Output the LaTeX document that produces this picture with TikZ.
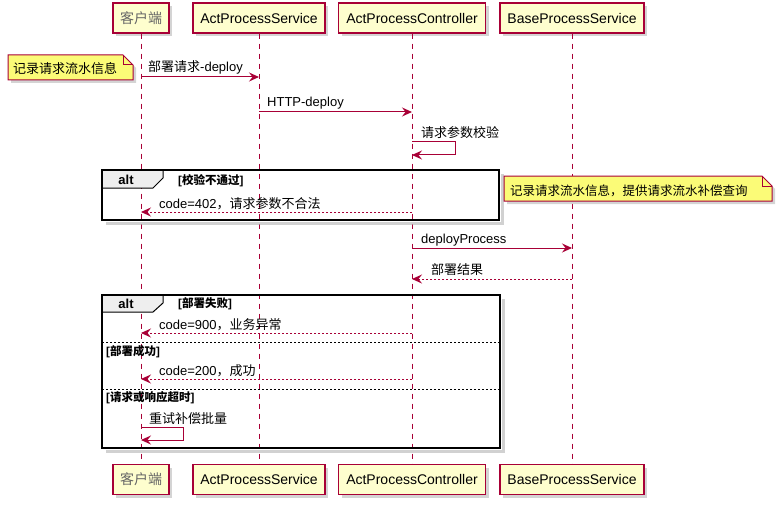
\documentclass[tikz,border=0pt]{standalone}
\usepackage{fontspec}
\setmainfont{Liberation Sans}
\newfontfamily\zhf{Noto Sans CJK SC}
\newcommand\zh[1]{{\zhf #1}}
\usetikzlibrary{arrows.meta,calc}
\definecolor{pbord}{HTML}{A80036}
\definecolor{pfill}{HTML}{FEFECE}
\definecolor{nfill}{HTML}{FBFB77}
\definecolor{tabfill}{HTML}{EEEEEE}
\definecolor{pgray}{HTML}{666666}
\tikzset{
  shad/.style={preaction={fill=black!28, opacity=0.6, draw=none, transform canvas={xshift=3pt,yshift=-3pt}}},
  part/.style={draw=pbord, fill=pfill, line width=1.3pt, minimum height=30pt, inner sep=0pt, shad,
    font=\fontsize{14}{16}\selectfont},
  life/.style={draw=pbord, line width=1pt, dash pattern=on 5pt off 5pt},
  msg/.style={draw=pbord, line width=1pt, -{Stealth[length=10pt,width=9pt,inset=3.5pt]}},
  ret/.style={msg, dash pattern=on 2pt off 2pt},
  lbl/.style={anchor=base west, inner sep=0pt, font=\fontsize{13}{15}\selectfont},
  guard/.style={anchor=base west, inner sep=0pt, font=\fontsize{11.5}{13}\selectfont\bfseries},
  frame/.style={draw=black, line width=1.5pt},
  fshad/.style={draw=black!30, line width=2.5pt, opacity=0.6},
  sep/.style={draw=black, line width=0.8pt, dash pattern=on 2pt off 2pt},
  tab/.style={draw=black, line width=1pt, fill=tabfill},
  notebox/.style={draw=pbord, line width=1pt, fill=nfill},
  noteshad/.style={fill=black!28, opacity=0.6, draw=none}
}
\begin{document}
\begin{tikzpicture}[x=1pt,y=-1pt]
\useasboundingbox (0,0) rectangle (783,505);

% participants (top)
\node[part, minimum width=56pt]  (a1) at (141,18) {\color{pgray}\zh{客户端}};
\node[part, minimum width=132pt] (a2) at (259,18) {ActProcessService};
\node[part, minimum width=147pt] (a3) at (412,18) {ActProcessController};
\node[part, minimum width=144pt] (a4) at (572,18) {BaseProcessService};
% participants (bottom)
\node[part, minimum width=56pt]  (b1) at (141,479.5) {\color{pgray}\zh{客户端}};
\node[part, minimum width=132pt] (b2) at (259,479.5) {ActProcessService};
\node[part, minimum width=147pt] (b3) at (412,479.5) {ActProcessController};
\node[part, minimum width=144pt] (b4) at (572,479.5) {BaseProcessService};

% lifelines
\draw[life] (a1.south) -- (b1.north);
\draw[life] (a2.south) -- (b2.north);
\draw[life] (a3.south) -- (b3.north);
\draw[life] (a4.south) -- (b4.north);

% row coordinates
\coordinate (r1) at (0,77);
\coordinate (r2) at (0,112);
\coordinate (r3) at (0,142);
\coordinate (r3b) at (0,155);
\coordinate (r4) at (0,212);
\coordinate (r5) at (0,248);
\coordinate (r6) at (0,279);
\coordinate (r7) at (0,333);
\coordinate (r8) at (0,379);
\coordinate (r9) at (0,427);
\coordinate (r9b) at (0,440);

% left note
\fill[noteshad] (11,58) -- (126,58) -- (136,68) -- (136,83) -- (11,83) -- cycle;
\draw[notebox] (8,55) -- (123,55) -- (133,65) -- (133,80) -- (8,80) -- cycle;
\draw[pbord, line width=1pt] (123,55) -- (123,65) -- (133,65);
\node[lbl] (n1) at (13,74) {\zh{记录请求流水信息}};

% message 1
\draw[msg] (a1 |- r1) -- (a2 |- r1);
\node[lbl] (m1) at (148,72) {\zh{部署请求}-deploy};
% message 2
\draw[msg] (a2 |- r2) -- (a3 |- r2);
\node[lbl] (m2) at (267,107) {HTTP-deploy};
% message 3 (self)
\draw[msg] (a3 |- r3) -- ++(43,0) -- ++(0,13) -- (a3 |- r3b);
\node[lbl] (m3) at (421,138) {\zh{请求参数校验}};

% alt 1
\draw[fshad] (502.5,174) -- (502.5,223.5) -- (106,223.5);
\draw[tab] (102,170) -- (163,170) -- (163,178) -- (153,188) -- (102,188) -- cycle;
\draw[frame] (102,170) rectangle (499,220);
\node[anchor=base, inner sep=0pt, font=\fontsize{13}{15}\selectfont\bfseries] (t1) at (126,184) {alt};
\node[guard] (g1) at (178,184) {[\zh{校验不通过}]};
\draw[ret] (a3 |- r4) -- (a1 |- r4);
\node[lbl] (m4) at (159,208) {code=402\zh{，请求参数不合法}};

% right note
\fill[noteshad] (507,179) -- (765,179) -- (775,189) -- (775,204) -- (507,204) -- cycle;
\draw[notebox] (504,176) -- (762,176) -- (772,186) -- (772,201) -- (504,201) -- cycle;
\draw[pbord, line width=1pt] (762,176) -- (762,186) -- (772,186);
\node[anchor=base west, inner sep=0pt, font=\fontsize{12.5}{15}\selectfont] (n2) at (510,195) {\zh{记录请求流水信息，提供请求流水补偿查询}};

% message 5
\draw[msg] (a3 |- r5) -- (a4 |- r5);
\node[lbl] (m5) at (421,243) {deployProcess};
% message 6
\draw[ret] (a4 |- r6) -- (a3 |- r6);
\node[lbl] (m6) at (431,274) {\zh{部署结果}};

% alt 2
\draw[fshad] (503.5,299) -- (503.5,451.5) -- (106,451.5);
\draw[tab] (102,295) -- (163,295) -- (163,303) -- (153,312) -- (102,312) -- cycle;
\draw[frame] (102,295) rectangle (500,448);
\node[anchor=base, inner sep=0pt, font=\fontsize{13}{15}\selectfont\bfseries] (t2) at (126,308) {alt};
\node[guard] (g2) at (178,307) {[\zh{部署失败}]};
\draw[ret] (a3 |- r7) -- (a1 |- r7);
\node[lbl] (m7) at (159,329) {code=900\zh{，业务异常}};
\draw[sep] (102,342) -- (500,342);
\node[guard] (g3) at (106,355) {[\zh{部署成功}]};
\draw[ret] (a3 |- r8) -- (a1 |- r8);
\node[lbl] (m8) at (159,375) {code=200\zh{，成功}};
\draw[sep] (102,389) -- (500,389);
\node[guard] (g4) at (106,401) {[\zh{请求或响应超时}]};
\draw[msg] (a1 |- r9) -- ++(42,0) -- ++(0,13) -- (a1 |- r9b);
\node[lbl] (m9) at (149,423) {\zh{重试补偿批量}};
\end{tikzpicture}
\end{document}
